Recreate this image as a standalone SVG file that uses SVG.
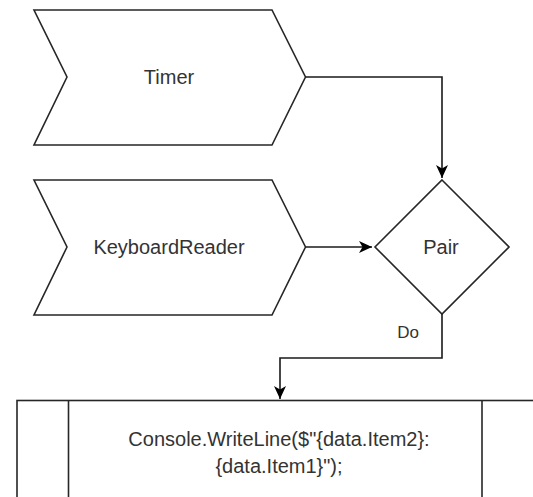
<svg xmlns="http://www.w3.org/2000/svg" width="533" height="497" viewBox="0 0 533 497">
  <style>
    .shape { fill: #ffffff; stroke: #262626; stroke-width: 1.6; stroke-linejoin: miter; }
    .edge { fill: none; stroke: #1a1a1a; stroke-width: 1.6; }
    .label { font-family: "Liberation Sans", Arial, sans-serif; font-size: 20px; fill: #333333; text-anchor: middle; }
    .edge-label { font-family: "Liberation Sans", Arial, sans-serif; font-size: 17px; fill: #333333; text-anchor: middle; }
  </style>
  <defs>
    <marker id="arrow" markerUnits="userSpaceOnUse" markerWidth="14" markerHeight="14" viewBox="0 0 14 14" refX="13" refY="7" orient="auto">
      <path d="M0,1 L13,7 L0,13 L3.5,7 Z" fill="#000000"/>
    </marker>
  </defs>

  <rect width="533" height="497" fill="#ffffff"/>

  <!-- connectors -->
  <g id="edges">
    <path class="edge" d="M305.5,77 H442 V178" marker-end="url(#arrow)"/>
    <path class="edge" d="M305.5,247 H372" marker-end="url(#arrow)"/>
    <path class="edge" d="M442,314 V358 H280 V399" marker-end="url(#arrow)"/>
    <text class="edge-label" x="408" y="338">Do</text>
  </g>

  <!-- Timer step -->
  <g id="timer">
    <polygon class="shape" points="34,10 272,10 305.5,77 272,145 34,145 67,77"/>
    <text class="label" x="169" y="84">Timer</text>
  </g>

  <!-- KeyboardReader step -->
  <g id="keyboard-reader">
    <polygon class="shape" points="34,180 272,180 305.5,247 272,315 34,315 67,247"/>
    <text class="label" x="169" y="254">KeyboardReader</text>
  </g>

  <!-- Pair decision -->
  <g id="pair">
    <polygon class="shape" points="442,180 509,247 442,314 375,247"/>
    <text class="label" x="441" y="254">Pair</text>
  </g>

  <!-- Console output process -->
  <g id="console-write">
    <rect class="shape" x="17" y="400.5" width="526" height="110"/>
    <line class="shape" x1="68.5" y1="400.5" x2="68.5" y2="510"/>
    <line class="shape" x1="482" y1="400.5" x2="482" y2="510"/>
    <text class="label" x="279" y="446">Console.WriteLine($"{data.Item2}:</text>
    <text class="label" x="279" y="472.5">{data.Item1}");</text>
  </g>
</svg>
